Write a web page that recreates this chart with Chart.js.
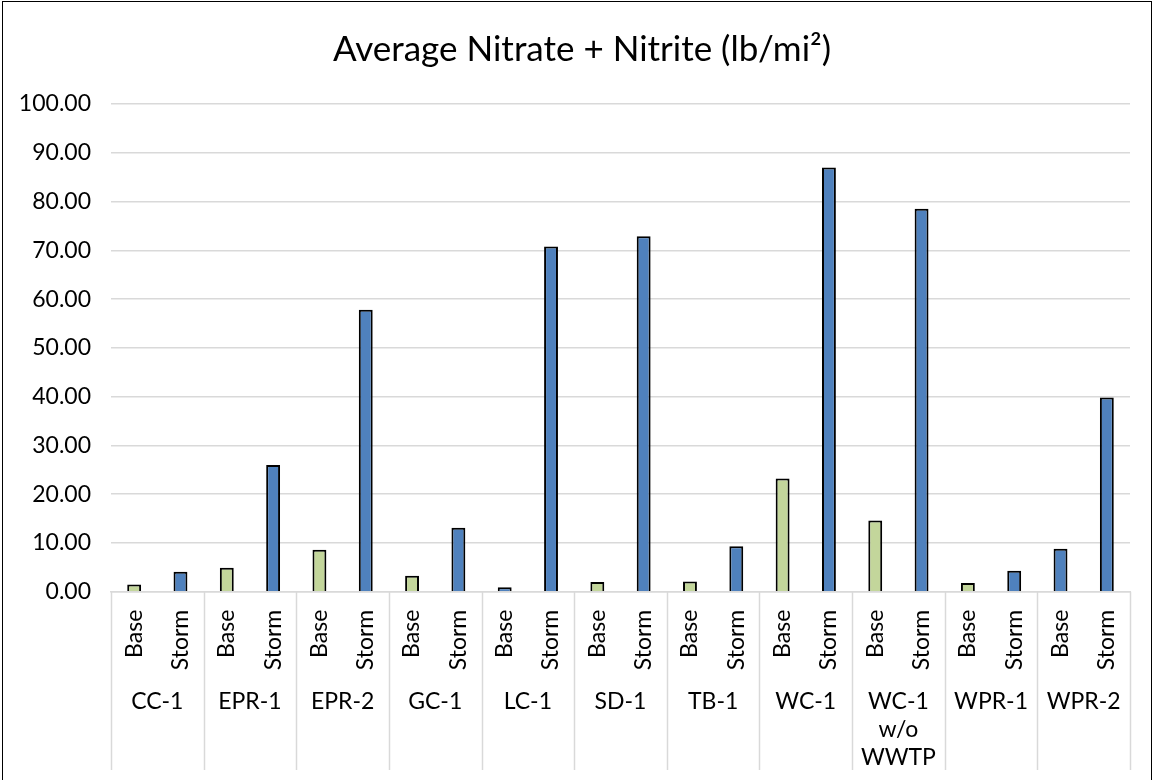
<!DOCTYPE html>
<html>
<head>
<meta charset="utf-8">
<script src="https://cdn.jsdelivr.net/npm/chart.js@4.4.0/dist/chart.umd.min.js"></script>
<style>
html, body { margin: 0; padding: 0; background: #fff; overflow: hidden; }
#frame { position: absolute; left: 2px; top: 1px; width: 1150px; height: 800px; border: 1.5px solid #000; box-sizing: border-box; }
#myChart { position: absolute; left: 0; top: 0; }
</style>
</head>
<body>
<div id="frame"></div>
<canvas id="myChart" width="1154" height="780"></canvas>
<script>
var sites = ["CC-1", "EPR-1", "EPR-2", "GC-1", "LC-1", "SD-1", "TB-1", "WC-1", ["WC-1", "w/o", "WWTP"], "WPR-1", "WPR-2"]
var seasons = ["Base", "Storm"]
var baseValues = [1.5, 4.9, 8.6, 3.3, 0.9, 2.0, 2.1, 23.2, 14.6, 1.8, 8.8]
var stormValues = [4.1, 26.0, 57.8, 13.1, 70.8, 72.9, 9.3, 87.0, 78.5, 4.3, 39.8]

var green = "#c3d69b"
var blue = "#4f81bd"
// base bars that show blue in the source
var blueBaseSites = ["LC-1", "WPR-2"]

var labels = []
var values = []
var colors = []
for (let i = 0; i < sites.length; i++) {
    labels.push(seasons[0], seasons[1])
    values.push(baseValues[i], stormValues[i])
    colors.push(blueBaseSites.indexOf(sites[i]) >= 0 ? blue : green, blue)
}

var fontName = "Lato, 'Open Sans', sans-serif"

// separators of the two-level category axis
var groupLines = {
    id: "groupLines",
    afterDraw: function (chart) {
        var ctx = chart.ctx
        var x = chart.scales.x
        var step = x.width / sites.length
        ctx.save()
        ctx.strokeStyle = "#d9d9d9"
        ctx.lineWidth = 1.5
        for (let i = 0; i <= sites.length; i++) {
            var px = Math.round(x.left + i * step) + 0.5
            ctx.beginPath()
            ctx.moveTo(px, chart.chartArea.bottom)
            ctx.lineTo(px, 770)
            ctx.stroke()
        }
        ctx.restore()
    }
}

new Chart("myChart", {
    type: "bar",
    data: {
        labels: labels,
        datasets: [{
            data: values,
            backgroundColor: colors,
            borderColor: "#000",
            borderWidth: 2,
            categoryPercentage: 1,
            barPercentage: 0.3
        }]
    },
    options: {
        responsive: false,
        animation: false,
        layout: { padding: { left: 20, right: 10, top: 10, bottom: 9 } },
        plugins: {
            legend: { display: false },
            tooltip: { enabled: false },
            title: {
                display: true,
                text: "Average Nitrate + Nitrite (lb/mi\u00b2)",
                color: "#000",
                font: { family: fontName, size: 35, weight: "normal" },
                padding: { top: 19, bottom: 33 }
            }
        },
        scales: {
            y: {
                min: 0,
                max: 100,
                afterFit: function (scale) { scale.width = 91 },
                ticks: {
                    stepSize: 10,
                    color: "#000",
                    font: { family: fontName, size: 23 },
                    padding: 20,
                    callback: function (v) { return v.toFixed(2) }
                },
                grid: { color: "#d9d9d9", lineWidth: 1.5, drawTicks: false },
                border: { display: false }
            },
            // empty strip on the right so the title sits where it does in the source
            yRight: {
                position: "right",
                afterFit: function (scale) { scale.width = 14 },
                ticks: { display: false },
                grid: { display: false, drawTicks: false },
                border: { display: false }
            },
            x: {
                ticks: {
                    color: "#000",
                    font: { family: fontName, size: 23 },
                    minRotation: 90,
                    maxRotation: 90,
                    autoSkip: false,
                    padding: 18
                },
                grid: { display: false, drawTicks: false },
                border: { display: true, color: "#d9d9d9", width: 1.5 }
            },
            x2: {
                type: "category",
                labels: sites,
                position: "bottom",
                offset: true,
                ticks: {
                    color: "#000",
                    font: { family: fontName, size: 23, lineHeight: 1.2 },
                    autoSkip: false,
                    maxRotation: 0,
                    padding: 0
                },
                grid: { display: false, drawTicks: false },
                border: { display: false }
            }
        }
    },
    plugins: [groupLines]
})
</script>
</body>
</html>
